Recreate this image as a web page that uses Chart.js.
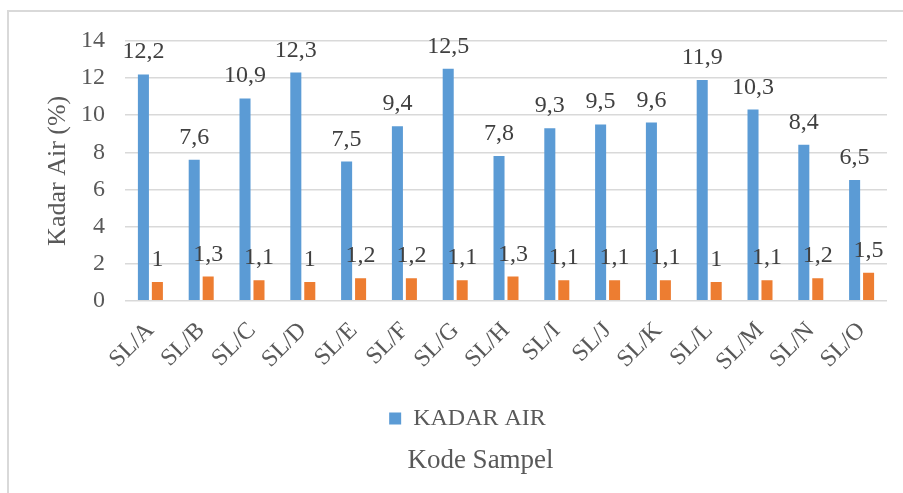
<!DOCTYPE html>
<html>
<head>
<meta charset="utf-8">
<script src="https://cdn.jsdelivr.net/npm/chart.js@4/dist/chart.umd.min.js"></script>
<style>
  html, body { margin: 0; padding: 0; background: #ffffff; }
  #wrap { position: relative; width: 903px; height: 493px; overflow: hidden; }
  #frame { position: absolute; left: 7px; top: 10px; width: 1000px; height: 1000px;
           border-left: 2px solid #d9d9d9; border-top: 2px solid #d9d9d9; pointer-events: none; }
  canvas { position: absolute; left: 0; top: 0; }
</style>
</head>
<body>
<div id="wrap">
  <canvas id="c" width="903" height="493"></canvas>
  <div id="frame"></div>
</div>
<script>
const categories = ['SL/A','SL/B','SL/C','SL/D','SL/E','SL/F','SL/G','SL/H','SL/I','SL/J','SL/K','SL/L','SL/M','SL/N','SL/O'];
const kadarAir = [12.2, 7.6, 10.9, 12.3, 7.5, 9.4, 12.5, 7.8, 9.3, 9.5, 9.6, 11.9, 10.3, 8.4, 6.5];
const seriesTwo = [1, 1.3, 1.1, 1, 1.2, 1.2, 1.1, 1.3, 1.1, 1.1, 1.1, 1, 1.1, 1.2, 1.5];
const yTicks = [0, 2, 4, 6, 8, 10, 12, 14];

const SERIF = '"Liberation Serif", "Times New Roman", serif';
const fmt = v => String(v).replace('.', ',');

const valueLabels = {
  id: 'valueLabels',
  afterDatasetsDraw(chart) {
    const ctx = chart.ctx;
    ctx.save();
    ctx.font = '24px ' + SERIF;
    ctx.fillStyle = '#404040';
    ctx.textAlign = 'center';
    ctx.textBaseline = 'alphabetic';
    chart.data.datasets.forEach((ds, i) => {
      chart.getDatasetMeta(i).data.forEach((bar, j) => {
        ctx.fillText(fmt(ds.data[j]), bar.x, bar.y - 16);
      });
    });
    ctx.restore();
  }
};

const shiftBoxes = {
  id: 'shiftBoxes',
  afterLayout(chart) {
    const lg = chart.legend;
    if (lg) { lg.left += 24; lg.right += 24; }
    const tt = chart.titleBlock;
    if (tt) { tt.left += 37; tt.right += 37; }
  }
};

new Chart(document.getElementById('c'), {
  type: 'bar',
  data: {
    labels: categories,
    datasets: [
      { label: 'KADAR AIR', data: kadarAir, backgroundColor: '#5B9BD5',
        categoryPercentage: 0.55, barPercentage: 0.79 },
      { label: '', data: seriesTwo, backgroundColor: '#ED7D31',
        categoryPercentage: 0.55, barPercentage: 0.79 }
    ]
  },
  plugins: [valueLabels, shiftBoxes],
  options: {
    responsive: false,
    animation: false,
    devicePixelRatio: 1,
    layout: { padding: { top: 41, right: 16, bottom: 12, left: 0 } },
    plugins: {
      legend: {
        position: 'bottom',
        labels: {
          filter: item => item.text !== '',
          boxWidth: 12, boxHeight: 12,
          color: '#595959',
          font: { family: SERIF, size: 24 },
          padding: 22
        }
      },
      title: {
        display: true,
        position: 'bottom',
        text: 'Kode Sampel',
        color: '#595959',
        font: { family: SERIF, size: 27, weight: 'normal' },
        padding: { top: 4, bottom: 4 }
      },
      tooltip: { enabled: false }
    },
    scales: {
      x: {
        grid: { display: false },
        border: { display: false },
        ticks: {
          color: '#595959',
          font: { family: SERIF, size: 24 },
          minRotation: 45, maxRotation: 45,
          padding: 8
        }
      },
      y: {
        min: 0, max: 14,
        afterFit(scale) { scale.width = 125; },
        afterBuildTicks(scale) { scale.ticks = yTicks.map(v => ({ value: v })); },
        grid: { color: '#d9d9d9', lineWidth: 1.5, drawTicks: false },
        border: { display: false },
        ticks: {
          color: '#595959',
          font: { family: SERIF, size: 24 },
          padding: 20
        },
        title: {
          display: true,
          text: 'Kadar Air (%)',
          color: '#595959',
          font: { family: SERIF, size: 26 },
          padding: { top: 43, bottom: 0 }
        }
      }
    }
  }
});
</script>
</body>
</html>
